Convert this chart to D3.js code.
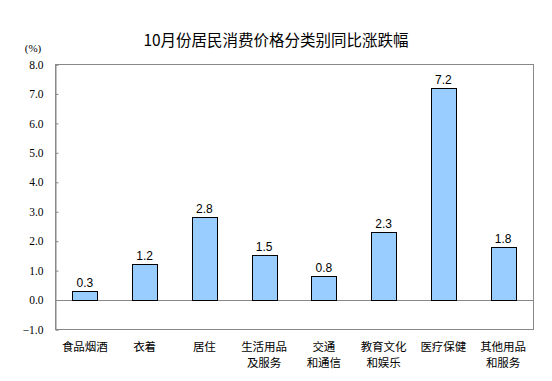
<!DOCTYPE html>
<html><head><meta charset="utf-8">
<script src="https://cdn.jsdelivr.net/npm/d3@7"></script>
<style>body{margin:0;background:#fff}svg{display:block}</style>
</head><body>
<script>
const categories = [["食品烟酒"],["衣着"],["居住"],["生活用品","及服务"],["交通","和通信"],["教育文化","和娱乐"],["医疗保健"],["其他用品","和服务"]];
const values = [0.3,1.2,2.8,1.5,0.8,2.3,7.2,1.8];
const yTicks = [-1,0,1,2,3,4,5,6,7,8];
const title = "10月份居民消费价格分类别同比涨跌幅";
const unit = "(%)";

const W=552,H=381;
const m={l:55,r:19,t:64,b:52};
const svg=d3.select("body").append("svg").attr("width",W).attr("height",H);
const x=d3.scaleBand().domain(d3.range(categories.length)).range([m.l,W-m.r]).paddingInner(0.58).paddingOuter(0.29);
const y=d3.scaleLinear().domain([-1,8]).range([H-m.b,m.t]);
const cjk='"Noto Sans CJK SC", sans-serif';

svg.append("text").attr("x",276).attr("y",46).attr("text-anchor","middle").attr("font-family",cjk).attr("font-size",15.5).attr("fill","#000").text(title);
svg.append("text").attr("x",33).attr("y",52).attr("text-anchor","middle").attr("font-family","Liberation Serif, serif").attr("font-size",11).text(unit);

// frame
svg.append("rect").attr("x",m.l+0.5).attr("y",y(8)+0.5).attr("width",W-m.r-m.l).attr("height",y(-1)-y(8)).attr("fill","none").attr("stroke","#888");

const ax=svg.append("g").attr("transform",`translate(${m.l+0.5},0.5)`).call(d3.axisLeft(y).tickValues(yTicks).tickFormat(d3.format(".1f")).tickSize(-3).tickPadding(12));
ax.select(".domain").attr("stroke","#888");
ax.selectAll(".tick line").attr("stroke","#888");
ax.selectAll(".tick text").attr("font-family","Liberation Serif, serif").attr("font-size",11.5).attr("fill","#000");

// zero line
svg.append("line").attr("x1",m.l).attr("x2",W-m.r).attr("y1",Math.round(y(0))+0.5).attr("y2",Math.round(y(0))+0.5).attr("stroke","#888");

svg.selectAll("rect.bar").data(values).join("rect").attr("class","bar")
 .attr("x",(d,i)=>Math.round(x(i))+0.5).attr("width",Math.round(x.bandwidth()))
 .attr("y",d=>Math.round(y(d))+0.5).attr("height",d=>Math.round(y(0))-Math.round(y(d)))
 .attr("fill","#99CCFF").attr("stroke","#000").attr("stroke-width",1);

svg.selectAll("text.val").data(values).join("text").attr("class","val")
 .attr("x",(d,i)=>x(i)+x.bandwidth()/2).attr("y",d=>y(d)-4)
 .attr("text-anchor","middle").attr("font-family","Liberation Sans, Arial, sans-serif").attr("font-size",12).text(d=>d.toFixed(1));

const cl=svg.selectAll("g.cat").data(categories).join("g").attr("class","cat");
cl.each(function(lines,i){
  const g=d3.select(this);
  lines.forEach((t,j)=>{
    g.append("text").attr("x",x(i)+x.bandwidth()/2).attr("y",351+j*16).attr("text-anchor","middle").attr("font-family",cjk).attr("font-size",11.5).text(t);
  });
});
</script>
</body></html>
